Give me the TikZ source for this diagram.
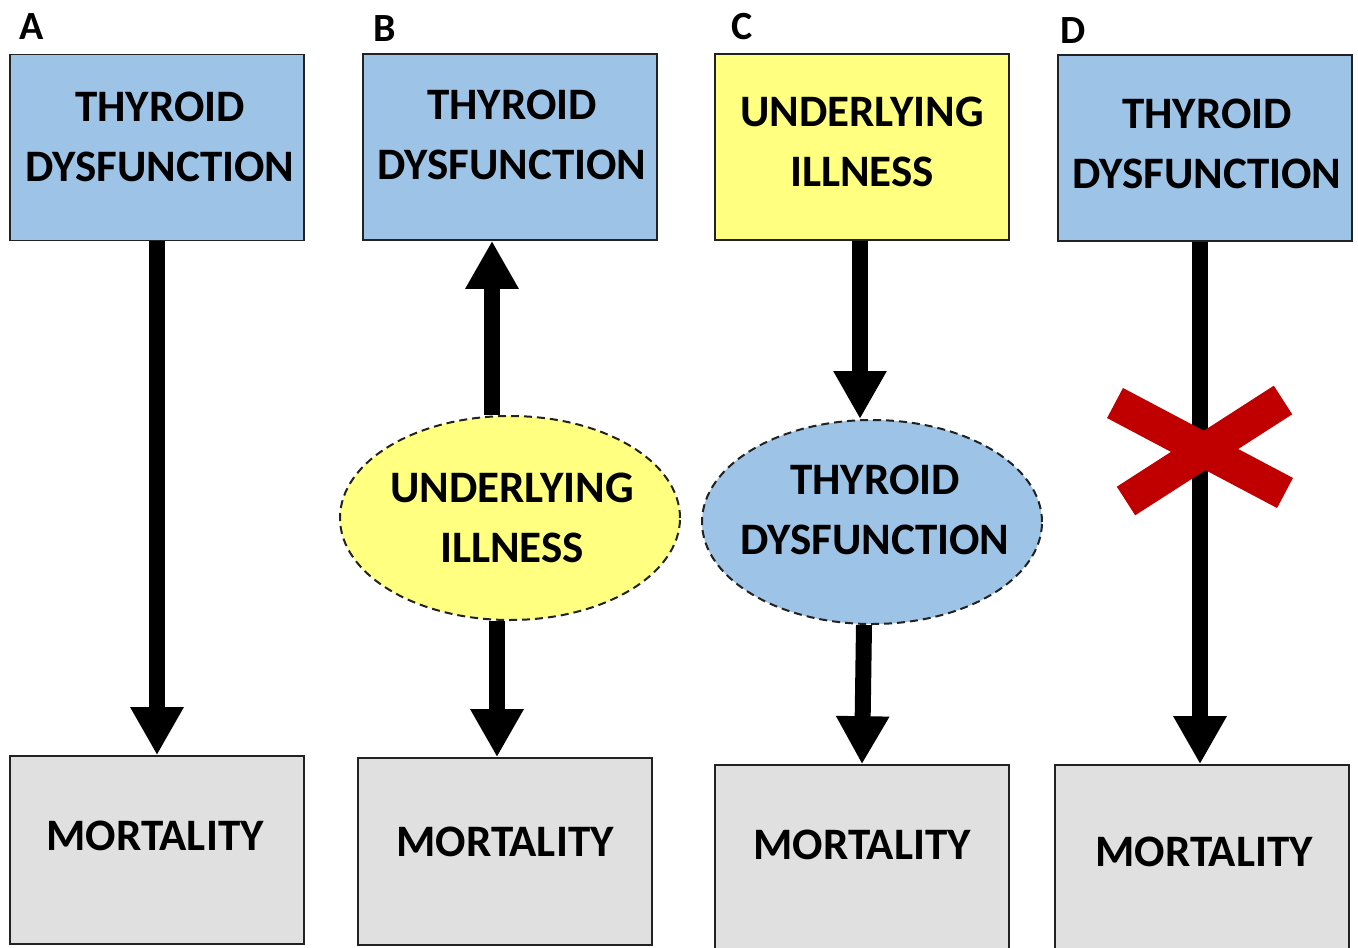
\documentclass[tikz,border=0pt]{standalone}
\usepackage{fontspec}
\setmainfont{Carlito}
\usetikzlibrary{arrows.meta,shapes.geometric}
\definecolor{tblue}{HTML}{9DC3E6}
\definecolor{tyellow}{HTML}{FFFF80}
\definecolor{tgray}{HTML}{E0E0E0}
\definecolor{tred}{HTML}{C00000}
\definecolor{tline}{HTML}{222222}
\tikzset{
  boxshape/.style={draw=tline, line width=1.6pt, rectangle, inner sep=0pt, minimum width=294pt},
  topbox/.style={boxshape, minimum height=186pt},
  botbox/.style={boxshape, minimum height=188pt, fill=tgray},
  ellshape/.style={draw=tline, line width=2pt, ellipse, inner sep=0pt, minimum width=340pt, minimum height=204pt, dash pattern=on 8pt off 5pt},
  txt/.style={font=\fontsize{45}{60}\selectfont\bfseries, align=center, inner sep=0pt, text=black},
  lab/.style={font=\fontsize{40}{48}\selectfont\bfseries, inner sep=0pt},
  arr/.style={line width=16pt, -{Triangle[width=50pt,length=48pt]}},
  xbar/.style={line width=34pt, tred}
}
\begin{document}
\begin{tikzpicture}[x=1pt,y=-1pt]
\useasboundingbox[fill=white] (0,0) rectangle (1358,948);
% labels
\node[lab] (labA) at (32,27) {A};
\node[lab] (labB) at (385,29) {B};
\node[lab] (labC) at (742,27) {C};
\node[lab] (labD) at (1073,31) {D};
% A
\node[topbox, fill=tblue] (topA) at (157,147.5) {};
\node[txt] (tA) at (160,137) {THYROID\\DYSFUNCTION};
\node[botbox] (botA) at (157,850) {};
\node[txt] (mA) at (155,836) {MORTALITY};
\draw[arr] (topA.south) -- (botA.north);
% B
\node[topbox, fill=tblue] (topB) at (510,147) {};
\node[txt] (tB) at (512,135) {THYROID\\DYSFUNCTION};
\node[ellshape, fill=tyellow] (ellB) at (510,518) {};
\node[txt] (eB) at (512,518) {UNDERLYING\\ILLNESS};
\node[botbox, minimum height=187pt] (botB) at (505,851.5) {};
\node[txt] (mB) at (505,842) {MORTALITY};
\draw[arr] ([xshift=-18pt]ellB.north) -- ([xshift=-18pt]topB.south);
\draw[arr] ([xshift=-13pt]ellB.south) -- ([xshift=-8pt]botB.north);
% C
\node[topbox, fill=tyellow] (topC) at (862,147) {};
\node[txt] (tC) at (862,142) {UNDERLYING\\ILLNESS};
\node[ellshape, fill=tblue] (ellC) at (872,522) {};
\node[txt] (eC) at (875,510) {THYROID\\DYSFUNCTION};
\node[botbox, minimum height=190pt] (botC) at (862,860) {};
\node[txt] (mC) at (862,845) {MORTALITY};
\draw[arr] ([xshift=-2pt]topC.south) -- ([xshift=-12pt]ellC.north);
\draw[arr] ([xshift=-8pt]ellC.south) -- ([xshift=0pt]botC.north);
% D
\node[topbox, fill=tblue] (topD) at (1205,148) {};
\node[txt] (tD) at (1207,144) {THYROID\\DYSFUNCTION};
\node[botbox, minimum height=190pt] (botD) at (1202,860) {};
\node[txt] (mD) at (1204,852) {MORTALITY};
\draw[arr] ([xshift=-5pt]topD.south) -- ([xshift=-2pt]botD.north);
\coordinate (x1a) at (1115,403);
\coordinate (x1b) at (1285,493);
\coordinate (x2a) at (1283,400);
\coordinate (x2b) at (1126,501);
\draw[xbar] (x1a) -- (x1b);
\draw[xbar] (x2a) -- (x2b);
\end{tikzpicture}
\end{document}
